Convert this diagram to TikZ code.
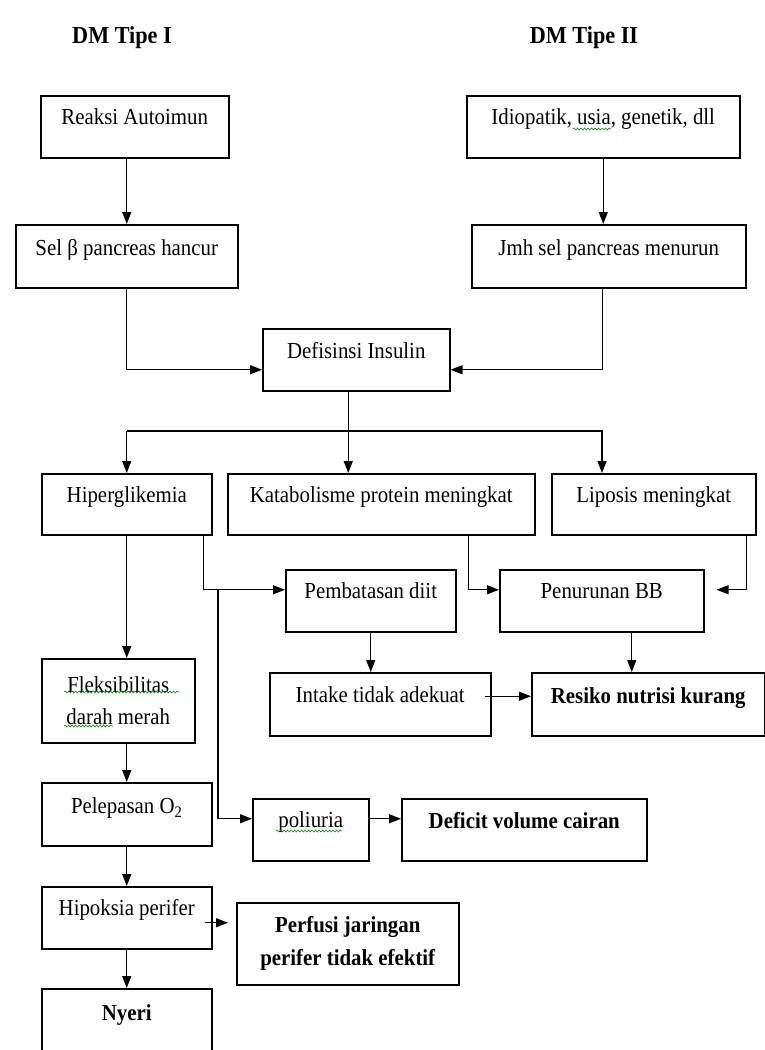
\documentclass[tikz,border=0pt]{standalone}
\usepackage{fontspec}
\setmainfont{Liberation Serif}[FakeStretch=0.91]
\usetikzlibrary{arrows.meta,decorations.pathmorphing}
\begin{document}
\begin{tikzpicture}[x=1bp,y=-1bp,
  box/.style={draw, line width=1.5bp, anchor=north west, inner xsep=0pt, inner ysep=0pt,
    font=\fontsize{23}{32}\selectfont, align=center},
  title/.style={anchor=base, font=\fontsize{24.5}{28}\selectfont\bfseries},
  arr/.style={line width=1.3bp, -{Triangle[length=12bp,width=9bp]}},
  squig/.style={draw=green!55!black, line width=0.6bp, decorate,
    decoration={snake, segment length=3.5bp, amplitude=1bp}}]
\useasboundingbox (0,0) rectangle (765,1050);

% titles
\node[title] (t1) at (122,43) {DM Tipe I};
\node[title] (t2) at (584,43) {DM Tipe II};

% boxes
\node[box, minimum width=188bp, text height=29bp, text depth=33bp] (reaksi) at (40,95) {Reaksi Autoimun};
\node[box, minimum width=273bp, text height=29bp, text depth=33bp] (idio) at (466,95) {Idiopatik, usia, genetik, dll};
\node[box, minimum width=222bp, text height=31bp, text depth=32bp] (sel) at (15,224) {Sel β pancreas hancur};
\node[box, minimum width=274bp, text height=31bp, text depth=32bp] (jmh) at (471,224) {Jmh sel pancreas menurun};
\node[box, minimum width=187bp, text height=30bp, text depth=32bp] (def) at (262,328) {Defisinsi Insulin};
\node[box, minimum width=170bp, text height=29bp, text depth=32bp] (hiper) at (41,473) {Hiperglikemia};
\node[box, minimum width=307bp, text height=29bp, text depth=32bp] (kata) at (227,473) {Katabolisme protein meningkat};
\node[box, minimum width=204bp, text height=29bp, text depth=32bp] (lipo) at (551,473) {Liposis meningkat};
\node[box, minimum width=170bp, text height=29bp, text depth=33bp] (pemb) at (285,569) {Pembatasan diit};
\node[box, minimum width=204bp, text height=29bp, text depth=33bp] (penur) at (499,569) {Penurunan BB};
\node[box, minimum width=153bp, minimum height=84bp] (fleks) at (41,658) {Fleksibilitas\\darah merah};
\node[box, minimum width=221bp, text height=30bp, text depth=33bp] (intake) at (269,672) {Intake tidak adekuat};
\node[box, minimum width=233bp, text height=31bp, text depth=32bp] (resiko) at (531,672) {\bfseries Resiko nutrisi kurang};
\node[box, minimum width=170bp, text height=31bp, text depth=32bp] (pelep) at (41,782) {Pelepasan O\textsubscript{2}};
\node[box, minimum width=116bp, text height=29bp, text depth=33bp] (poli) at (252,798) {poliuria};
\node[box, minimum width=245bp, text height=30bp, text depth=32bp] (defic) at (401,798) {\bfseries Deficit volume cairan};
\node[box, minimum width=170bp, text height=29bp, text depth=33bp] (hipok) at (41,886) {Hipoksia perifer};
\node[box, minimum width=222bp, minimum height=82bp, font=\fontsize{23}{33}\selectfont\bfseries] (perf) at (236,902) {Perfusi jaringan\\perifer tidak efektif};
\node[box, minimum width=170bp, text height=32bp, text depth=32bp] (nyeri) at (41,988) {\bfseries Nyeri};

% spell-check squiggles
\draw[squig] (573,129) -- (611,129);
\draw[squig] (64,692) -- (179,692);
\draw[squig] (64,726) -- (113,726);
\draw[squig] (276,831) -- (342,831);

% junction points
\coordinate (busR) at (602,431);
\coordinate (j1) at (218,589);

% connectors
\draw[arr] (reaksi.south -| sel.north) -- (sel.north);
\draw[arr] (idio.south) -- (idio.south |- jmh.north);
\draw[arr] (sel.south) |- ([yshift=-10bp]def.west);
\draw[arr] ([xshift=-6bp]jmh.south) |- ([yshift=-10bp]def.east);
\draw[arr] ([xshift=-8bp]def.south) -- ([xshift=-8bp]def.south |- kata.north);
\draw[arr] (hiper.north |- busR) -- (busR) -- (busR |- lipo.north);
\draw[arr] (hiper.north |- busR) -- (hiper.north);
\draw[arr] (hiper.south) -- (hiper.south |- fleks.north);
\draw[arr] (pelep.north |- fleks.south) -- (pelep.north);
\draw[arr] (pelep.south) -- (hipok.north);
\draw[arr] (hipok.south) -- (nyeri.north);
\draw[arr] ([xshift=-9bp]hiper.south east) |- ([yshift=11bp]pemb.west);
\draw[arr] (j1) |- ([yshift=11bp]poli.west);
\draw[arr] ([xshift=-67bp]kata.south east) |- ([yshift=11bp]penur.west);
\draw[arr, shorten >=12bp] ([xshift=-10bp]lipo.south east) |- ([yshift=11bp]penur.east);
\draw[arr] (pemb.south) -- (pemb.south |- intake.north);
\draw[arr] ([xshift=30bp]penur.south) -- ([xshift=30bp]penur.south |- resiko.north);
\draw[arr] ([xshift=-7bp,yshift=8bp]intake.east) -- ([yshift=8bp]resiko.west);
\draw[arr] ([yshift=11bp]poli.east) -- ([yshift=11bp]defic.west);
\draw[arr] ([xshift=-8bp,yshift=-5bp]hipok.east) -- ([xshift=-8bp,yshift=-5bp]hipok.east -| perf.west);
\end{tikzpicture}
\end{document}
